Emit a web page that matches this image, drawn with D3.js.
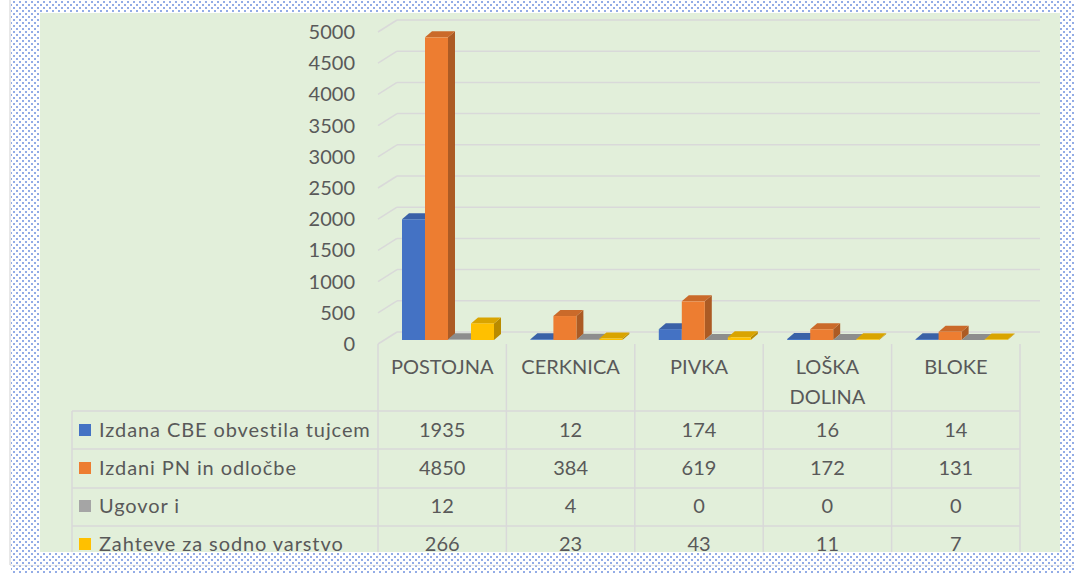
<!DOCTYPE html>
<html>
<head>
<meta charset="utf-8">
<script src="https://cdn.jsdelivr.net/npm/d3@7"></script>
<style>
  body { margin: 0; background: #fff; }
  svg { display: block; }
  text { font-family: Lato, "Open Sans", sans-serif; fill: #595959; }
</style>
</head>
<body>
<script>
const categories = ['POSTOJNA', 'CERKNICA', 'PIVKA', 'LOŠKA DOLINA', 'BLOKE'];
const seriesNames = ['Izdana CBE obvestila tujcem', 'Izdani PN in odločbe', 'Ugovor i', 'Zahteve za sodno varstvo'];
const cbe = [1935, 12, 174, 16, 14];
const pn = [4850, 384, 619, 172, 131];
const ugovori = [12, 4, 0, 0, 0];
const zahteve = [266, 23, 43, 11, 7];
const yTicks = [0, 500, 1000, 1500, 2000, 2500, 3000, 3500, 4000, 4500, 5000];

const seriesValues = [cbe, pn, ugovori, zahteve];
const color = d3.scaleOrdinal(seriesNames, ['#4472C4', '#ED7D31', '#A5A5A5', '#FFC000']);

const width = 1074, height = 574;
const depthX = 7, depthY = -6;   // bar depth
const wallX = 19, wallY = -12;   // floor depth

const svg = d3.select('body').append('svg')
    .attr('width', width)
    .attr('height', height);

// dotted frame pattern
const defs = svg.append('defs');
const pat = defs.append('pattern')
    .attr('id', 'dots')
    .attr('width', 6).attr('height', 6)
    .attr('patternUnits', 'userSpaceOnUse');
pat.append('rect').attr('width', 6).attr('height', 6).attr('fill', '#fff');
pat.append('rect').attr('x', 1).attr('y', 1).attr('width', 2).attr('height', 2).attr('fill', '#93ace6');
pat.append('rect').attr('x', 4).attr('y', 4).attr('width', 2).attr('height', 2).attr('fill', '#93ace6');

svg.append('rect')
    .attr('x', 11).attr('y', 0)
    .attr('width', width - 11).attr('height', height)
    .attr('fill', 'url(#dots)');
svg.append('line')
    .attr('x1', 10).attr('x2', 10).attr('y1', 0).attr('y2', 565)
    .attr('stroke', '#d0d0d0');
svg.append('line')
    .attr('x1', 10).attr('x2', width).attr('y1', 565).attr('y2', 565)
    .attr('stroke', '#d9d9d9');

// chart panel
svg.append('rect')
    .attr('x', 40).attr('y', 13)
    .attr('width', 1020).attr('height', 539)
    .attr('fill', '#e2efda');

const x = d3.scaleBand().domain(categories).range([378, 1020]);
const x1 = d3.scaleBand().domain(seriesNames).range([24, 116]);
const y = d3.scaleLinear().domain([0, 5000]).range([340, 28]);

// back wall gridlines + side wall diagonals
const grid = svg.append('g');
yTicks.forEach(t => {
    const yb = y(t) - 8;
    grid.append('line')
        .attr('x1', 378 + wallX).attr('x2', 1040)
        .attr('y1', yb).attr('y2', yb)
        .attr('stroke', '#d9d9d9').attr('stroke-width', 1.5);
    grid.append('line')
        .attr('x1', 378).attr('x2', 378 + wallX)
        .attr('y1', yb - wallY).attr('y2', yb)
        .attr('stroke', '#d9d9d9').attr('stroke-width', 1.5);
});

// y tick labels
svg.append('g').selectAll('text')
    .data(yTicks)
    .join('text')
    .attr('x', 355)
    .attr('y', d => y(d) + 4)
    .attr('dy', '0.35em')
    .attr('text-anchor', 'end')
    .attr('font-size', 20)
    .text(d => d);

// 3D bars
const bars = [];
categories.forEach((c, ci) => {
    seriesNames.forEach((s, si) => {
        bars.push({cat: c, series: s, value: seriesValues[si][ci]});
    });
});

const barG = svg.append('g');
bars.forEach(d => {
    const x0 = x(d.cat) + x1(d.series);
    const w = x1.bandwidth();
    const y0 = y(0), yt = y(d.value);
    const base = d3.color(color(d.series));
    const g = barG.append('g');
    // side face
    g.append('path')
        .attr('d', `M${x0 + w},${y0}L${x0 + w + depthX},${y0 + depthY}L${x0 + w + depthX},${yt + depthY}L${x0 + w},${yt}Z`)
        .attr('fill', base.darker(0.9));
    // top face
    g.append('path')
        .attr('d', `M${x0},${yt}L${x0 + depthX},${yt + depthY}L${x0 + w + depthX},${yt + depthY}L${x0 + w},${yt}Z`)
        .attr('fill', base.darker(0.45));
    // front face
    g.append('rect')
        .attr('x', x0).attr('y', yt)
        .attr('width', w).attr('height', y0 - yt)
        .attr('fill', base);
});

// data table
const tableTop = 344, rowTops = [411, 449, 488, 526], tableBottom = 563;
const tbl = svg.append('g').attr('stroke', '#d9d9d9').attr('stroke-width', 1.5);
const colEdges = categories.map(c => x(c)).concat([x.range()[1]]);
colEdges.forEach(cx => {
    tbl.append('line')
        .attr('x1', cx).attr('x2', cx)
        .attr('y1', tableTop).attr('y2', tableBottom);
});
tbl.append('line')
    .attr('x1', 72).attr('x2', 72)
    .attr('y1', rowTops[0]).attr('y2', tableBottom);
rowTops.forEach(ry => {
    tbl.append('line')
        .attr('x1', 72).attr('x2', x.range()[1])
        .attr('y1', ry).attr('y2', ry);
});

// category headers
svg.append('g').selectAll('text')
    .data(categories)
    .join('text')
    .attr('x', d => x(d) + x.bandwidth() / 2)
    .attr('y', 367)
    .attr('text-anchor', 'middle')
    .attr('font-size', 20)
    .each(function(d) {
        const parts = d === 'LOŠKA DOLINA' ? ['LOŠKA', 'DOLINA'] : [d];
        parts.forEach((p, i) => {
            d3.select(this).append('tspan')
                .attr('x', x(d) + x.bandwidth() / 2)
                .attr('dy', i === 0 ? '0.35em' : 30)
                .text(p);
        });
    });

// rows: legend key + values
const rowCenters = [430, 468, 506, 544];
seriesNames.forEach((s, si) => {
    const cy = rowCenters[si];
    svg.append('rect')
        .attr('x', 79).attr('y', cy - 6)
        .attr('width', 12).attr('height', 12)
        .attr('fill', color(s));
    svg.append('text')
        .attr('x', 99).attr('y', cy)
        .attr('dy', '0.35em')
        .attr('font-size', 20)
        .attr('letter-spacing', 0.9)
        .text(s);
    categories.forEach((c, ci) => {
        svg.append('text')
            .attr('x', x(c) + x.bandwidth() / 2)
            .attr('y', cy)
            .attr('dy', '0.35em')
            .attr('text-anchor', 'middle')
            .attr('font-size', 20)
            .text(seriesValues[si][ci]);
    });
});

// dotted frame overlaps the panel bottom edge
svg.append('rect')
    .attr('x', 11).attr('y', 552)
    .attr('width', width - 11).attr('height', 13)
    .attr('fill', 'url(#dots)')
    .attr('opacity', 0.85);
</script>
</body>
</html>
